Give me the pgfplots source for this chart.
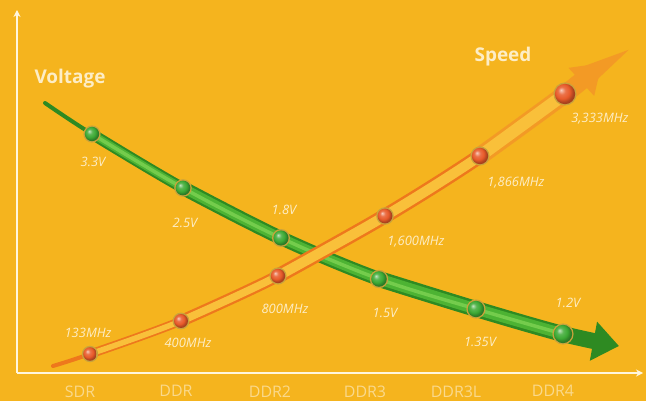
\documentclass[border=0pt]{standalone}
\usepackage{pgfplots}
\pgfplotsset{compat=1.18}
\usepackage{pgfplotstable}
\usepackage{fontspec}
\setmainfont{Open Sans}
\usetikzlibrary{arrows.meta}
\definecolor{bg}{HTML}{F5B41E}
\definecolor{cream}{HTML}{FDEDC6}
\definecolor{ticktxt}{HTML}{FAD98C}
\definecolor{axisln}{HTML}{FFF6DE}
\definecolor{gdark}{HTML}{2E8A22}
\definecolor{gmid}{HTML}{4DB333}
\definecolor{glight}{HTML}{74CC4C}
\definecolor{odark}{HTML}{EE781C}
\definecolor{omid}{HTML}{F39A25}
\definecolor{olight}{HTML}{F9C03A}
\definecolor{ring}{HTML}{C9A33C}
\definecolor{rball}{HTML}{E85A2A}
\definecolor{gball}{HTML}{3DAA35}

\pgfdeclareradialshading{gballshade}{\pgfpoint{-10bp}{10bp}}{color(0bp)=(gball!30!white); color(9bp)=(gball!85!white); color(18bp)=(gball); color(25bp)=(gball!75!black); color(35bp)=(gball!60!black); color(50bp)=(gball!50!black)}
\pgfdeclareradialshading{rballshade}{\pgfpoint{-10bp}{10bp}}{color(0bp)=(rball!30!white); color(9bp)=(rball!85!white); color(18bp)=(rball); color(25bp)=(rball!75!black); color(35bp)=(rball!60!black); color(50bp)=(rball!50!black)}
\pgfdeclareplotmark{gball}{%
  \pgfpathcircle{\pgfpointorigin}{\pgfplotmarksize+1.4bp}\pgfsetfillcolor{ring}\pgfusepath{fill}%
  \pgfpathcircle{\pgfpointorigin}{\pgfplotmarksize}\pgfshadepath{gballshade}{0}\pgfusepath{}}
\pgfdeclareplotmark{rball}{%
  \pgfpathcircle{\pgfpointorigin}{\pgfplotmarksize+1.4bp}\pgfsetfillcolor{ring}\pgfusepath{fill}%
  \pgfpathcircle{\pgfpointorigin}{\pgfplotmarksize}\pgfshadepath{rballshade}{0}\pgfusepath{}}

% layout coordinates (x, y) of each generation, value and label
\pgfplotstableread{
x y r value label dx dy
92 267 7.2 3.3 3.3V 1 -28
183 213 7.4 2.5 2.5V 2 -35
281 163 7.6 1.8 1.8V 3 28
379 122 7.8 1.5 1.5V 6 -34
476 92 8.2 1.35 1.35V 4 -33
563 67 9.2 1.2 1.2V 5 31
}\voltmarks
\pgfplotstableread{
x y r value label dx dy
90 47 6.8 133 133MHz -2 21
181 80 7.0 400 400MHz 7 -22
278 125 7.2 800 800MHz 7 -33
385 185 7.4 1600 1,600MHz 31 -26
480 245 8.2 1866 1,866MHz 36 -27
565 307 10.2 3333 3,333MHz 35 -25
}\speedmarks
% curve paths (tail, generations, arrow tip)
\pgfplotstableread{
x y
45 298
92 267
183 213
281 163
379 122
476 92
563 67
619 55
}\voltpath
\pgfplotstableread{
x y
53 35
90 47
181 80
278 125
385 185
480 245
565 307
602 338
}\speedpath

\begin{document}
\begin{tikzpicture}
\fill[bg] (0,0) rectangle (646bp,401bp);
\begin{axis}[
  at={(17bp,28bp)}, anchor=south west,
  scale only axis, width=626bp, height=363bp,
  xmin=17, xmax=643, ymin=28, ymax=391,
  axis lines=left,
  axis line style={draw=axisln, line width=1.6bp},
  x axis line style={-{Stealth[length=7bp,width=7bp]}},
  y axis line style={-{Stealth[length=7bp,width=7bp]}},
  xtick={80,176,270,365,456,553},
  xticklabels={SDR,DDR,DDR2,DDR3,DDR3L,DDR4},
  ytick=\empty,
  major tick length=0pt,
  xticklabel style={font=\fontsize{16}{16}\selectfont, text=ticktxt, yshift=-9bp},
  clip=false,
  every axis plot/.append style={smooth, tension=0.55},
]
% ---- Voltage curve ----
\addplot[gdark, line width=4bp, line cap=round, restrict x to domain=40:185] table {\voltpath};
\addplot[gdark, line width=11bp, restrict x to domain=90:285] table {\voltpath};
\addplot[gmid, line width=7bp, restrict x to domain=90:285] table {\voltpath};
\addplot[gdark, line width=14bp, restrict x to domain=180:480] table {\voltpath};
\addplot[gmid, line width=9.5bp, restrict x to domain=180:480] table {\voltpath};
\addplot[gdark, line width=16bp, restrict x to domain=375:700, -{Triangle[length=26bp,width=38bp]}] table {\voltpath};
\addplot[gmid, line width=11bp, restrict x to domain=375:570] table {\voltpath};
\addplot[glight, line width=3.5bp, restrict x to domain=90:570] table {\voltpath};
\addplot[scatter, only marks, mark=gball,
  visualization depends on={\thisrow{r}\as\pms},
  scatter/@pre marker code/.append style={/tikz/mark size=\pms}]
  table[x=x,y=y] {\voltmarks};
% ---- Speed curve ----
\addplot[odark, line width=4bp, line cap=round, restrict x to domain=50:185] table {\speedpath};
\addplot[odark, line width=9bp, restrict x to domain=85:280] table {\speedpath};
\addplot[olight, line width=5.5bp, restrict x to domain=85:280] table {\speedpath};
\addplot[odark, line width=12bp, restrict x to domain=180:390] table {\speedpath};
\addplot[olight, line width=7.5bp, restrict x to domain=180:390] table {\speedpath};
\addplot[odark, line width=15bp, restrict x to domain=275:570] table {\speedpath};
\addplot[olight, line width=10bp, restrict x to domain=275:570] table {\speedpath};
\addplot[omid, line width=18bp, restrict x to domain=475:700, -{Triangle[length=28bp,width=36bp]}] table {\speedpath};
\addplot[olight, line width=12bp, restrict x to domain=475:570] table {\speedpath};
\addplot[scatter, only marks, mark=rball,
  visualization depends on={\thisrow{r}\as\pms},
  scatter/@pre marker code/.append style={/tikz/mark size=\pms}]
  table[x=x,y=y] {\speedmarks};
% ---- value labels ----
\addplot[only marks, mark=none, nodes near coords, point meta=explicit symbolic,
  visualization depends on={\thisrow{dx}\as\lbdx},
  visualization depends on={\thisrow{dy}\as\lbdy},
  every node near coord/.append style={anchor=center, xshift=\lbdx, yshift=\lbdy,
    font=\itshape\fontsize{13}{13}\selectfont, text=cream}]
  table[x=x,y=y,meta=label] {\voltmarks};
\addplot[only marks, mark=none, nodes near coords, point meta=explicit symbolic,
  visualization depends on={\thisrow{dx}\as\lbdx},
  visualization depends on={\thisrow{dy}\as\lbdy},
  every node near coord/.append style={anchor=center, xshift=\lbdx, yshift=\lbdy,
    font=\itshape\fontsize{13}{13}\selectfont, text=cream}]
  table[x=x,y=y,meta=label] {\speedmarks};
\node[font=\bfseries\fontsize{19}{19}\selectfont, text=cream] at (axis cs:70,322) {Voltage};
\node[font=\bfseries\fontsize{19}{19}\selectfont, text=cream] at (axis cs:503,344) {Speed};
\end{axis}
\pgfresetboundingbox
\path[use as bounding box] (0,0) rectangle (646bp,401bp);
\end{tikzpicture}
\end{document}
